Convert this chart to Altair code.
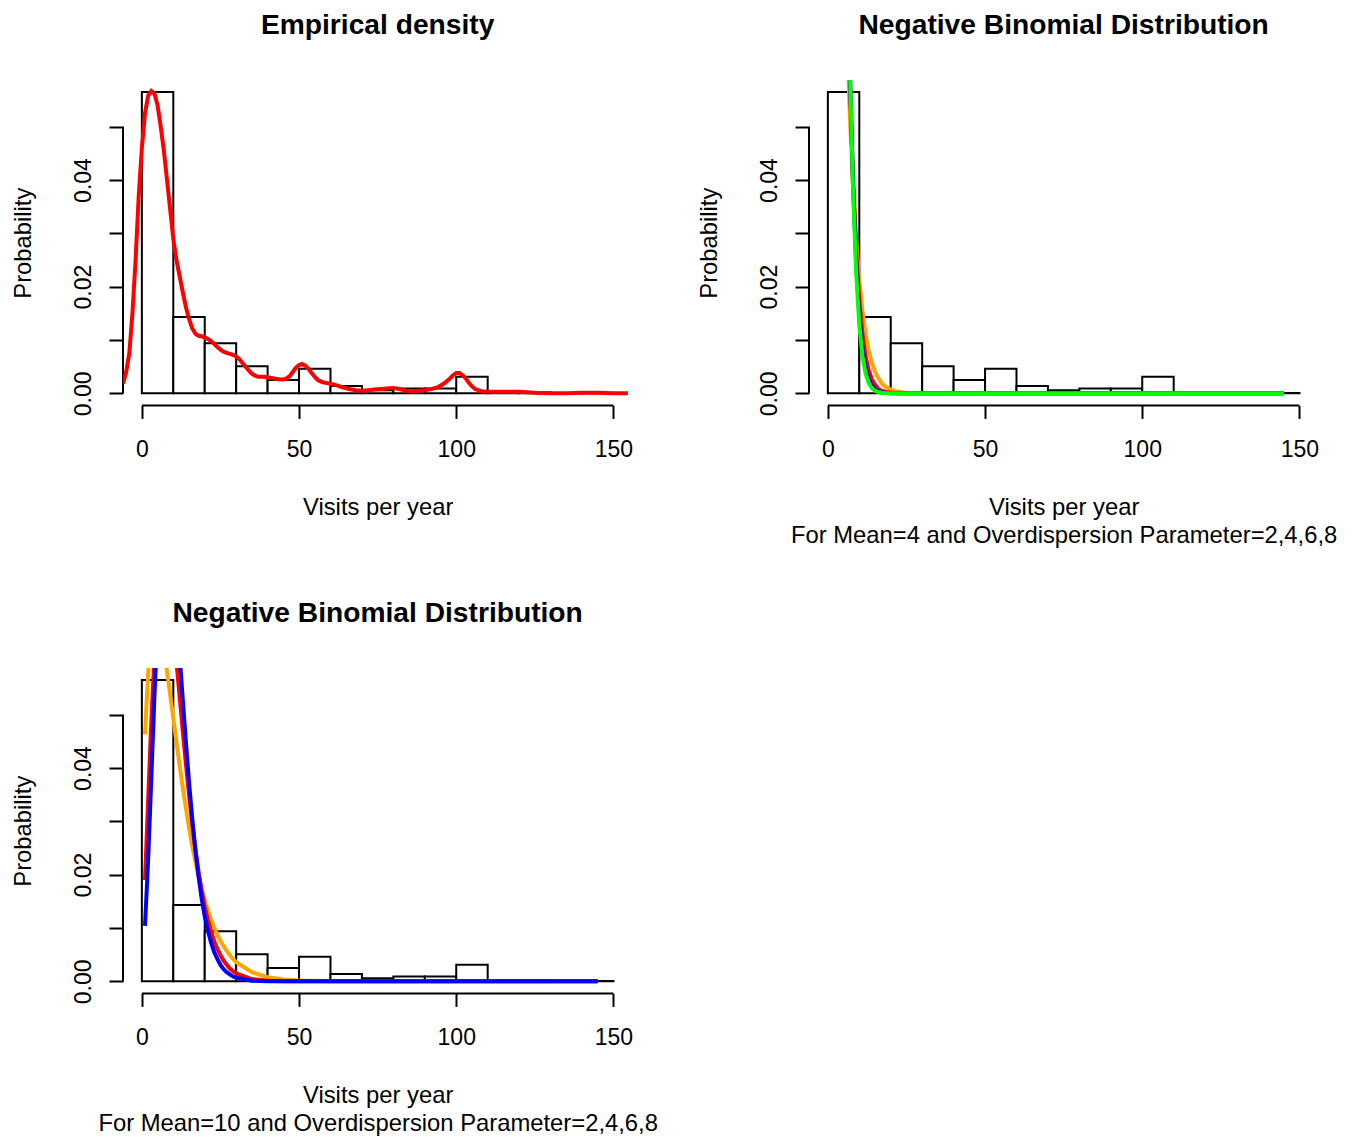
import altair as alt
import pandas as pd

FONT = "Liberation Sans"

# ---------------- data ----------------
BIN_START = [0, 10, 20, 30, 40, 50, 60, 70, 80, 90, 100, 110, 120, 130, 140]
BIN_END = [10, 20, 30, 40, 50, 60, 70, 80, 90, 100, 110, 120, 130, 140, 150]
HIST_DENSITY = [0.0565, 0.0143, 0.0094, 0.0051, 0.0025, 0.0046, 0.0014, 0.0006,
                0.0009, 0.0009, 0.0031, 0.0002, 0.0002, 0.00005, 0.00005]

DENS_X = [-6, -5, -4, -3, -2, -1, 0, 1, 2, 3, 4, 5, 6, 7, 8, 9, 10, 11, 12, 13, 14,
          15, 16, 17, 18, 19, 20, 21, 22, 23, 24, 25, 26, 27, 28, 29, 30, 31, 32,
          33, 34, 35, 36, 37, 38, 39, 40, 42, 44, 45, 46, 47, 48, 49, 50, 51, 52,
          53, 54, 55, 56, 57, 58, 60, 62, 64, 66, 68, 70, 72, 74, 76, 78, 80, 82,
          84, 86, 88, 90, 92, 94, 96, 98, 99, 100, 101, 102, 103, 104, 105, 106,
          108, 110, 115, 120, 125, 130, 135, 140, 145, 150, 154.6]
DENS_Y = [0.0018, 0.0040, 0.0075, 0.0150, 0.0250, 0.0370, 0.0460, 0.0525, 0.0558,
          0.0567, 0.0562, 0.0540, 0.0500, 0.0455, 0.0400, 0.0345, 0.0290, 0.0250,
          0.0220, 0.0190, 0.0162, 0.0140, 0.0122, 0.0112, 0.0108, 0.0107, 0.0105,
          0.0102, 0.0098, 0.0093, 0.0087, 0.0082, 0.0078, 0.0076, 0.0074, 0.0072,
          0.0069, 0.0064, 0.0057, 0.0050, 0.0043, 0.0037, 0.0033, 0.0031, 0.0031,
          0.0031, 0.0030, 0.0028, 0.0026, 0.0026, 0.0028, 0.0032, 0.0040, 0.0048,
          0.0053, 0.0055, 0.0052, 0.0046, 0.0038, 0.0031, 0.0025, 0.0022, 0.0020,
          0.0018, 0.0015, 0.0011, 0.0008, 0.0006, 0.0005, 0.0006, 0.0007, 0.0008,
          0.0009, 0.0010, 0.0008, 0.0005, 0.0004, 0.0005, 0.0006, 0.0008, 0.0011,
          0.0018, 0.0028, 0.0034, 0.0038, 0.0038, 0.0034, 0.0028, 0.0020, 0.0013,
          0.0008, 0.0004, 0.0003, 0.0003, 0.0003, 0.0001, 0.0000, 0.0000, 0.0001,
          0.0001, 0.0000, 0.0000]

# Negative binomial curves, mean 4
NB4_X = [1, 2, 3, 4, 5, 6, 7, 8, 9, 10, 11, 12, 13, 14, 15, 16, 17, 18, 19, 20,
         22, 24, 26, 28, 30, 35, 40, 50, 145]
NB4_K2 = [0.1481, 0.1481, 0.1317, 0.1097, 0.0878, 0.0683, 0.0520, 0.0390, 0.0289,
          0.0212, 0.0154, 0.0111, 0.0080, 0.0057, 0.0041, 0.0029, 0.0020, 0.0014,
          0.0010, 0.0007, 0.00034, 0.00017, 0.00008, 0.00004, 0.00002, 0, 0, 0, 0]
NB4_K4 = [0.1250, 0.1563, 0.1563, 0.1367, 0.1094, 0.0820, 0.0586, 0.0403, 0.0269,
          0.0175, 0.0111, 0.0069, 0.0043, 0.0026, 0.0016, 0.0009, 0.0005, 0.0003,
          0.0002, 0.0001, 0.00003, 0.00001, 0, 0, 0, 0, 0, 0, 0]
NB4_K6 = [0.1120, 0.1568, 0.1672, 0.1505, 0.1204, 0.0883, 0.0605, 0.0394, 0.0245,
          0.0147, 0.0085, 0.0048, 0.0027, 0.0015, 0.0008, 0.0004, 0.0002, 0.0001,
          0.00005, 0.00003, 0, 0, 0, 0, 0, 0, 0, 0, 0]
NB4_K8 = [0.1040, 0.1561, 0.1734, 0.1590, 0.1272, 0.0919, 0.0612, 0.0383, 0.0227,
          0.0128, 0.0070, 0.0037, 0.0019, 0.00095, 0.00047, 0.00023, 0.00011,
          0.00005, 0.00002, 0.00001, 0, 0, 0, 0, 0, 0, 0, 0, 0]

# Negative binomial curves, mean 10
NB10_X = [1, 2, 3, 4, 5, 6, 7, 8, 9, 10, 11, 12, 13, 14, 15, 16, 17, 18, 19, 20,
          21, 22, 23, 24, 25, 26, 27, 28, 29, 30, 35, 40, 45, 50, 60, 145]
NB10_K2 = [0.0463, 0.0579, 0.0643, 0.0670, 0.0670, 0.0651, 0.0620, 0.0581, 0.0538,
           0.0493, 0.0449, 0.0405, 0.0364, 0.0325, 0.0288, 0.0255, 0.0225, 0.0198,
           0.0174, 0.0152, 0.0133, 0.0116, 0.0101, 0.0087, 0.0076, 0.0066, 0.0057,
           0.0049, 0.0042, 0.0036, 0.0017, 0.00077, 0.00035, 0.00016, 0.00003, 0]
NB10_K4 = [0.0190, 0.0340, 0.0486, 0.0607, 0.0694, 0.0743, 0.0759, 0.0745, 0.0710,
           0.0659, 0.0599, 0.0535, 0.0470, 0.0408, 0.0350, 0.0296, 0.0249, 0.0207,
           0.0171, 0.0140, 0.0115, 0.0094, 0.0075, 0.0061, 0.0049, 0.0039, 0.0031,
           0.0024, 0.0019, 0.0015, 0.00043, 0.00012, 0.00003, 0.00001, 0, 0]
NB10_K6 = [0.0104, 0.0228, 0.0380, 0.0535, 0.0668, 0.0766, 0.0821, 0.0833, 0.0810,
           0.0760, 0.0691, 0.0611, 0.0529, 0.0449, 0.0374, 0.0307, 0.0248, 0.0198,
           0.0156, 0.0122, 0.0095, 0.0073, 0.0055, 0.0042, 0.0031, 0.0023, 0.0017,
           0.0013, 0.0009, 0.0007, 0.00013, 0.00002, 0, 0, 0, 0]

X_TICKS = [0, 50, 100, 150]
Y_TICKS = [0.0, 0.01, 0.02, 0.03, 0.04, 0.05]
X_DOMAIN = [-6, 156]
Y_DOMAIN = [-0.00226, 0.05875]

TITLE_MAIN = "Empirical density"
TITLE_NB = "Negative Binomial Distribution"
XLAB = "Visits per year"
YLAB = "Probability"
SUB4 = "For Mean=4 and Overdispersion Parameter=2,4,6,8"
SUB10 = "For Mean=10 and Overdispersion Parameter=2,4,6,8"

# ---------------- chart ----------------
W = 509.3
H = 325.4

XS = alt.Scale(domain=X_DOMAIN, nice=False, zero=False)
YS = alt.Scale(domain=Y_DOMAIN, nice=False, zero=False)

hist_df = pd.DataFrame({"start": BIN_START, "end": BIN_END,
                        "base": [0.0] * len(BIN_START), "density": HIST_DENSITY})
rules_df = pd.DataFrame({"x": [X_TICKS[0], X_DOMAIN[0]], "x2": [X_TICKS[-1], X_DOMAIN[0]],
                         "y": [Y_DOMAIN[0], Y_TICKS[0]], "y2": [Y_DOMAIN[0], Y_TICKS[-1]]})


def x_axis(title):
    return alt.Axis(values=X_TICKS, format="d", domain=False, grid=False,
                    tickSize=13, tickWidth=2, tickColor="black",
                    labelFont=FONT, labelFontSize=23, labelColor="black",
                    labelPadding=20, labelAlign="center", labelBaseline="top",
                    labelFlush=False, labelOverlap=False,
                    title=title, titleFont=FONT, titleFontSize=23.8,
                    titleFontWeight="normal", titleColor="black",
                    titleX=W / 2, titleY=90, titleAlign="center",
                    titleBaseline="top", titleLineHeight=28)


Y_AXIS = alt.Axis(values=Y_TICKS, format=".2f", domain=False, grid=False,
                  labelExpr="(round(datum.value*100) % 2 == 0) ? datum.label : ''",
                  tickSize=14, tickWidth=2, tickColor="black",
                  labelFont=FONT, labelFontSize=23, labelColor="black",
                  labelAngle=270, labelAlign="center", labelBaseline="bottom",
                  labelPadding=14, labelFlush=False, labelOverlap=False,
                  title=YLAB, titleFont=FONT, titleFontSize=23.8,
                  titleFontWeight="normal", titleColor="black",
                  titleAngle=270, titleAlign="center", titleBaseline="bottom",
                  titleX=-88, titleY=H / 2)


def panel(title, xtitle, curves):
    xa = x_axis(xtitle)
    hist = alt.Chart(hist_df).mark_rect(fill="white", stroke="black", strokeWidth=2).encode(
        x=alt.X("start:Q", scale=XS, axis=xa),
        x2="end:Q",
        y=alt.Y("base:Q", scale=YS, axis=Y_AXIS),
        y2="density:Q",
    )
    rules = alt.Chart(rules_df).mark_rule(color="black", strokeWidth=2).encode(
        x=alt.X("x:Q", scale=XS, axis=xa), x2="x2:Q",
        y=alt.Y("y:Q", scale=YS, axis=Y_AXIS), y2="y2:Q",
    )
    layers = [hist, rules]
    for xs, ys, color in curves:
        df = pd.DataFrame({"x": xs, "y": ys})
        layers.append(
            alt.Chart(df).mark_line(color=color, strokeWidth=4, clip=True).encode(
                x=alt.X("x:Q", scale=XS, axis=xa),
                y=alt.Y("y:Q", scale=YS, axis=Y_AXIS),
            )
        )
    return alt.layer(*layers).properties(
        width=W, height=H,
        title=alt.Title(title, font=FONT, fontSize=28.2, fontWeight="bold",
                        color="black", anchor="middle", frame="group", offset=40),
    )


p1 = panel(TITLE_MAIN, XLAB, [(DENS_X, DENS_Y, "#FF0000")])
p2 = panel(TITLE_NB, [XLAB, SUB4], [
    (NB4_X, NB4_K2, "#FFA500"),
    (NB4_X, NB4_K4, "#FF0000"),
    (NB4_X, NB4_K6, "#0000FF"),
    (NB4_X, NB4_K8, "#00FF00"),
])
p3 = panel(TITLE_NB, [XLAB, SUB10], [
    (NB10_X, NB10_K2, "#FFA500"),
    (NB10_X, NB10_K4, "#FF0000"),
    (NB10_X, NB10_K6, "#0000FF"),
])

chart = alt.concat(p1, p2, p3, columns=2, spacing={"row": 262, "column": 176},
                   bounds="flush").properties(
    padding={"left": 3, "top": 2, "right": 5, "bottom": 5}
).configure(font=FONT).configure_view(stroke=None)

chart.save("out.html", embed_options={"renderer": "svg", "actions": False})
